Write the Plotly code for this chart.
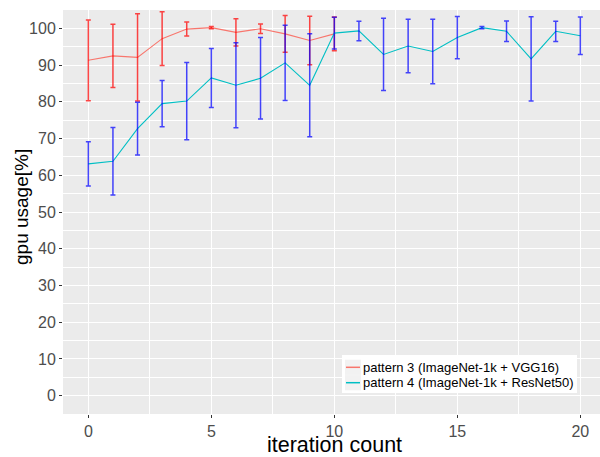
import plotly.graph_objects as go

# ---- data ----
iter_p3 = list(range(0, 11))
usage_p3 = [91.3, 92.5, 92.1, 97.2, 99.8, 100.2, 98.9, 99.9, 98.5, 96.7, 98.5]
err_p3 = [11.0, 8.6, 11.9, 7.3, 1.9, 0.3, 3.7, 1.3, 5.0, 6.6, 4.6]

iter_p4 = list(range(0, 21))
usage_p4 = [63.1, 63.8, 72.7, 79.5, 80.2, 86.5, 84.5, 86.4, 90.6, 84.5, 98.7,
            99.3, 92.9, 95.2, 93.7, 97.5, 100.2, 99.2, 91.7, 99.2, 98.0]
err_p4 = [6.0, 9.2, 7.2, 6.3, 10.5, 8.05, 11.55, 11.1, 10.25, 14.0, 4.3,
          2.65, 9.85, 7.3, 8.8, 5.75, 0.3, 2.8, 11.45, 2.75, 5.1]

names = ["pattern 3 (ImageNet-1k + VGG16)", "pattern 4 (ImageNet-1k + ResNet50)"]
x_ticks = [0, 5, 10, 15, 20]
y_ticks = list(range(0, 101, 10))

line_colors = ["#F8766D", "#00BFC4"]
err_colors = ["rgba(255,0,0,0.72)", "rgba(0,0,255,0.72)"]

FONT = "Liberation Sans, Arial, sans-serif"
W, H = 600, 457
ML, MR, MT, MB = 63, 0, 10, 43

fig = go.Figure()
series = [(iter_p3, usage_p3, err_p3), (iter_p4, usage_p4, err_p4)]
for i, (xs, ys, es) in enumerate(series):
    fig.add_trace(go.Scatter(x=xs, y=ys, mode="lines", name=names[i],
                             line=dict(color=line_colors[i], width=1.1),
                             showlegend=False, hoverinfo="skip"))
    fig.add_trace(go.Scatter(x=xs, y=ys, mode="markers", name=names[i],
                             marker=dict(size=1, color="rgba(0,0,0,0)"),
                             error_y=dict(type="data", array=es, visible=True,
                                          color=err_colors[i], thickness=1.5, width=2.5),
                             showlegend=False))

def px2x(px):
    return (px - ML) / (W - ML - MR)

def py2y(py):
    return (H - MB - py) / (H - MT - MB)

shapes = []
annotations = []
# manual ggplot-style legend
shapes.append(dict(type="rect", xref="paper", yref="paper",
                   x0=px2x(342), x1=px2x(577), y0=py2y(393), y1=py2y(355),
                   fillcolor="white", line=dict(width=0), layer="above"))
row_centers = [367.3, 382.7]
for i, yc in enumerate(row_centers):
    shapes.append(dict(type="rect", xref="paper", yref="paper",
                       x0=px2x(345), x1=px2x(361), y0=py2y(yc + 7.6), y1=py2y(yc - 7.6),
                       fillcolor="#F2F2F2", line=dict(width=0), layer="above"))
    shapes.append(dict(type="line", xref="paper", yref="paper",
                       x0=px2x(346), x1=px2x(360), y0=py2y(yc), y1=py2y(yc),
                       line=dict(color=line_colors[i], width=1.5), layer="above"))
    annotations.append(dict(xref="paper", yref="paper", x=px2x(361), y=py2y(yc),
                            xanchor="left", yanchor="middle", showarrow=False,
                            text=names[i], font=dict(family=FONT, size=13, color="black")))

# axis titles
annotations.append(dict(xref="paper", yref="paper", x=px2x(334.6), y=py2y(444.5),
                        xanchor="center", yanchor="middle", showarrow=False,
                        text="iteration count", font=dict(family=FONT, size=21.5, color="black")))
annotations.append(dict(xref="paper", yref="paper", x=px2x(21), y=py2y(207),
                        xanchor="center", yanchor="middle", showarrow=False, textangle=-90,
                        text="gpu usage[%]", font=dict(family=FONT, size=19, color="black")))

fig.update_layout(
    width=W, height=H,
    margin=dict(l=ML, r=MR, t=MT, b=MB, autoexpand=False),
    paper_bgcolor="white", plot_bgcolor="#EBEBEB",
    font=dict(family=FONT),
    shapes=shapes, annotations=annotations,
    showlegend=False,
)
fig.update_xaxes(range=[-1.03, 20.8], tickvals=x_ticks, ticktext=[str(v) for v in x_ticks],
                 showgrid=True, gridcolor="white", gridwidth=1.1, zeroline=False,
                 ticks="outside", ticklen=3, tickwidth=1, tickcolor="#333333",
                 tickfont=dict(family=FONT, size=16, color="#4D4D4D"),
                 minor=dict(tickvals=[2.5, 7.5, 12.5, 17.5], showgrid=True,
                            gridcolor="white", gridwidth=0.5, ticks=""),
                 showline=False, fixedrange=True)
fig.update_yaxes(range=[-5, 105], tickvals=y_ticks, ticktext=[str(v) for v in y_ticks],
                 showgrid=True, gridcolor="white", gridwidth=1.1, zeroline=False,
                 ticks="outside", ticklen=3, tickwidth=1, tickcolor="#333333",
                 tickfont=dict(family=FONT, size=16, color="#4D4D4D"),
                 minor=dict(tickvals=[v + 5 for v in y_ticks[:-1]], showgrid=True,
                            gridcolor="white", gridwidth=0.5, ticks=""),
                 showline=False, fixedrange=True)

fig.write_html("out.html")
